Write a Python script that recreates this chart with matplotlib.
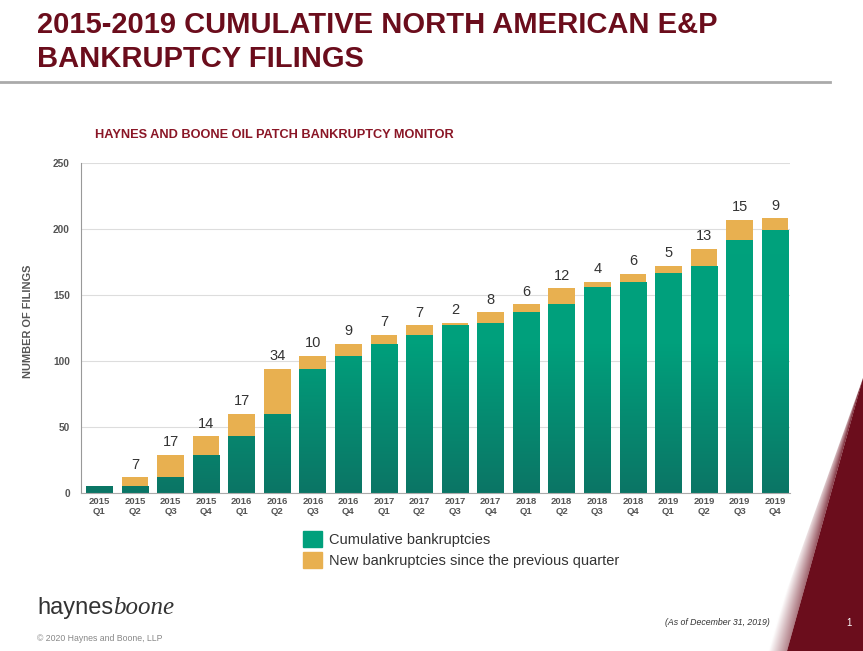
import matplotlib
matplotlib.use("Agg")
import matplotlib.pyplot as plt
import numpy as np
from matplotlib.colors import LinearSegmentedColormap, to_rgb
from matplotlib.patches import Patch, Polygon

years = ["2015"] * 4 + ["2016"] * 4 + ["2017"] * 4 + ["2018"] * 4 + ["2019"] * 4
quarters = ["Q1", "Q2", "Q3", "Q4"] * 5
cumulative = [5, 5, 12, 29, 43, 60, 94, 104, 113, 120, 127, 129, 137, 143, 156, 160, 167, 172, 192, 199]
new_filings = [0, 7, 17, 14, 17, 34, 10, 9, 7, 7, 2, 8, 6, 12, 4, 6, 5, 13, 15, 9]

W, H = 863, 651
MAROON = "#6b0d1c"
GREEN = "#00a07c"
ORANGE = "#e8b050"
SANS = ["Liberation Sans", "DejaVu Sans"]

fig = plt.figure(figsize=(W / 100, H / 100), dpi=100)

# background layer in pixel coordinates
bg = fig.add_axes([0, 0, 1, 1], zorder=-1)
bg.set_xlim(0, W)
bg.set_ylim(H, 0)
bg.axis("off")

# title + rule
bg.text(37, 33, "2015-2019 CUMULATIVE NORTH AMERICAN E&P", fontsize=21, fontweight="bold",
        color=MAROON, family=SANS, va="baseline")
bg.text(37, 67, "BANKRUPTCY FILINGS", fontsize=21, fontweight="bold",
        color=MAROON, family=SANS, va="baseline")
bg.plot([0, 830], [82, 82], color="#aaaaaa", lw=2)

# decorative triangle bottom right
top_pt = (863, 378)
bg.add_patch(Polygon([top_pt, (863, 651), (787, 651)], closed=True, color=MAROON, lw=0))
sliver = Polygon([top_pt, (787, 651), (765, 651)], closed=True, facecolor="none", lw=0)
bg.add_patch(sliver)
xs = np.linspace(760, 863, 200)
ys = np.linspace(378, 651, 300)
X, Y = np.meshgrid(xs, ys)
xa = 863 - (Y - 378) * (76 / 273)
xb = 863 - (Y - 378) * (98 / 273)
t = np.clip((xa - X) / np.maximum(xa - xb, 1e-6), 0, 1)
t = np.clip(t * 0.6 + (Y - 378) / 273 * 0.5, 0, 1)
m = np.array(to_rgb(MAROON))
img = m[None, None, :] * (1 - t[..., None]) + np.ones(3)[None, None, :] * t[..., None]
im = bg.imshow(img, extent=[760, 863, 651, 378], aspect="auto", zorder=0)
im.set_clip_path(sliver)
bg.set_xlim(0, W)
bg.set_ylim(H, 0)

# subtitle
bg.text(95, 138, "HAYNES AND BOONE OIL PATCH BANKRUPTCY MONITOR", fontsize=9.2,
        fontweight="bold", color="#8a1626", family=SANS, va="baseline")

# footer
renderer = fig.canvas.get_renderer()
t1 = bg.text(37, 614, "haynes", fontsize=17, color="#333333", family=SANS, va="baseline")
bb = t1.get_window_extent(renderer)
bg.text(37 + bb.width, 614, "boone", fontsize=18, color="#333333", style="italic",
        family=["Liberation Serif", "DejaVu Serif"], va="baseline")
bg.text(37, 641, "\u00a9 2020 Haynes and Boone, LLP", fontsize=6.3, color="#888888",
        family=SANS, va="baseline")
bg.text(770, 625, "(As of December 31, 2019)", fontsize=6.3, color="#333333", style="italic",
        family=SANS, va="baseline", ha="right")
bg.text(846, 626, "1", fontsize=7, color="white", family=SANS, va="baseline")

# chart
ax = fig.add_axes([81 / W, 1 - 493 / H, (790 - 81) / W, (493 - 163) / H])
x = np.arange(len(cumulative))
green_bars = ax.bar(x, cumulative, width=0.75, color=GREEN, zorder=2, lw=0)
ax.bar(x, new_filings, bottom=cumulative, width=0.75, color=ORANGE, zorder=2, lw=0)

cmap = LinearSegmentedColormap.from_list("g", [(0, "#0b7565"), (0.45, "#00a07c"), (1, "#00a27d")])
grad = np.linspace(0, 1, 256).reshape(-1, 1)
for bar in green_bars:
    x0 = bar.get_x()
    gi = ax.imshow(grad, cmap=cmap, extent=[x0, x0 + bar.get_width(), 0, 250],
                   origin="lower", aspect="auto", zorder=2.5)
    gi.set_clip_path(bar)

for xi, c, n in zip(x, cumulative, new_filings):
    if n > 0:
        ax.annotate(str(n), (xi, c + n), xytext=(0, 4), textcoords="offset points",
                    ha="center", va="bottom", fontsize=10.5, color="#333333", family=SANS)

ax.set_xlim(-0.52, 19.42)
ax.set_ylim(0, 250)
ax.set_yticks(np.arange(0, 251, 50))
ax.set_xticks(x)
ax.set_xticklabels([f"{a}\n{b}" for a, b in zip(years, quarters)], linespacing=1.1)
ax.tick_params(length=0)
ax.tick_params(axis="y", pad=8)
ax.tick_params(axis="x", pad=3)
for lab in ax.get_xticklabels():
    lab.set_fontsize(6.8)
for lab in ax.get_yticklabels():
    lab.set_fontsize(7.3)
for lab in ax.get_xticklabels() + ax.get_yticklabels():
    lab.set_fontweight("bold")
    lab.set_color("#555555")
    lab.set_family(SANS)
ax.yaxis.grid(True, color="#dddddd", lw=0.8, zorder=0)
ax.set_axisbelow(True)
for s in ["top", "right"]:
    ax.spines[s].set_visible(False)
ax.spines["left"].set_color("#999999")
ax.spines["bottom"].set_color("#aaaaaa")
ax.patch.set_alpha(0)

fig.text(28 / W, 1 - 321 / H, "NUMBER OF FILINGS", rotation=90, fontsize=7.9, fontweight="bold",
         color="#555555", family=SANS, ha="center", va="center")

handles = [Patch(color=GREEN), Patch(color=ORANGE)]
fig.legend(handles, ["Cumulative bankruptcies", "New bankruptcies since the previous quarter"],
           loc="upper left", bbox_to_anchor=(297 / W, 1 - 525 / H), frameon=False,
           prop={"family": SANS, "size": 10.5}, handlelength=1.3, handleheight=1.3,
           labelspacing=0.35, handletextpad=0.5, borderaxespad=0, labelcolor="#333333")

fig.savefig("out.png", dpi=100)
